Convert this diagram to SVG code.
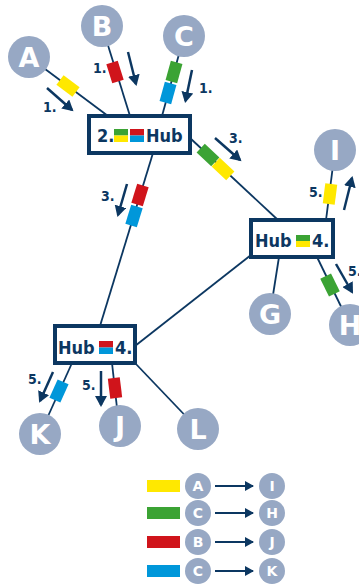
<svg xmlns="http://www.w3.org/2000/svg" width="359" height="587" viewBox="0 0 359 587">
<style>
.ln{stroke:#0c3761;stroke-width:1.8;fill:none}
.ar{stroke:#0c3761;stroke-width:2.5;fill:none;marker-end:url(#ah)}
.lar{stroke:#0c3761;stroke-width:2;fill:none;marker-end:url(#lah)}
.nd{fill:#97a8c4}
.nt{fill:#fff;font-family:"DejaVu Sans",sans-serif;font-weight:bold;font-size:27px;text-anchor:middle}
.lt{fill:#fff;font-family:"DejaVu Sans",sans-serif;font-weight:bold;font-size:14px;text-anchor:middle}
.hub{fill:#fff;stroke:#0c3761;stroke-width:4}
.ht{fill:#0c3761;font-family:"DejaVu Sans Condensed","DejaVu Sans",sans-serif;font-weight:bold;font-size:18px}
.st{fill:#0c3761;font-family:"DejaVu Sans Condensed","DejaVu Sans",sans-serif;font-weight:bold;font-size:14px}
.y{fill:#ffe800}.g{fill:#3ba334}.r{fill:#d0141b}.b{fill:#0097da}
</style>
<defs>
<marker id="ah" markerUnits="userSpaceOnUse" markerWidth="12" markerHeight="12" refX="9" refY="6" orient="auto"><path d="M0,0 L11,6 L0,12 z" fill="#0c3761"/></marker>
<marker id="lah" markerUnits="userSpaceOnUse" markerWidth="10" markerHeight="12" refX="8" refY="6" orient="auto"><path d="M0,1 L9,6 L0,11 z" fill="#0c3761"/></marker>
<rect id="pk" x="-10" y="-6" width="20" height="12"/>
</defs>
<g id="connectors">
<line class="ln" x1="29" y1="57" x2="108" y2="116"/>
<line class="ln" x1="102" y1="26" x2="130" y2="116"/>
<line class="ln" x1="184" y1="36" x2="162" y2="116"/>
<line class="ln" x1="190" y1="138" x2="278" y2="220"/>
<line class="ln" x1="153" y1="153" x2="100" y2="326"/>
<line class="ln" x1="251" y1="255" x2="135" y2="346"/>
<line class="ln" x1="326" y1="220" x2="335" y2="150"/>
<line class="ln" x1="279" y1="257" x2="270" y2="314"/>
<line class="ln" x1="317" y1="257" x2="350" y2="325"/>
<line class="ln" x1="72" y1="363" x2="40" y2="434"/>
<line class="ln" x1="112" y1="363" x2="119" y2="426"/>
<line class="ln" x1="135" y1="363" x2="198" y2="429"/>
</g>
<g id="packets">
<use href="#pk" class="y" transform="translate(68,86) rotate(36.8)"/>
<use href="#pk" class="r" transform="translate(115,72) rotate(72.7)"/>
<use href="#pk" class="g" transform="translate(174,72) rotate(105.4)"/>
<use href="#pk" class="b" transform="translate(168,93) rotate(105.4)"/>
<use href="#pk" class="g" transform="translate(208,155) rotate(43)"/>
<use href="#pk" class="y" transform="translate(223,169) rotate(43)"/>
<use href="#pk" class="r" transform="translate(140,195) rotate(107)"/>
<use href="#pk" class="b" transform="translate(134,216) rotate(107)"/>
<use href="#pk" class="y" transform="translate(330,194) rotate(-82.7)"/>
<use href="#pk" class="g" transform="translate(330,285) rotate(64.1)"/>
<use href="#pk" class="b" transform="translate(59,391) rotate(114.3)"/>
<use href="#pk" class="r" transform="translate(115,388) rotate(83)"/>
</g>
<g id="arrows">
<line class="ar" x1="47" y1="88" x2="72" y2="110"/>
<line class="ar" x1="128" y1="52" x2="136" y2="84"/>
<line class="ar" x1="192" y1="70" x2="185.5" y2="101"/>
<line class="ar" x1="215" y1="138" x2="240" y2="160"/>
<line class="ar" x1="127" y1="184" x2="118" y2="215"/>
<line class="ar" x1="344" y1="210" x2="352" y2="178"/>
<line class="ar" x1="336" y1="264" x2="352" y2="292"/>
<line class="ar" x1="53" y1="372" x2="40" y2="401"/>
<line class="ar" x1="101" y1="371" x2="101" y2="405"/>
<text class="st" x="43" y="112">1.</text>
<text class="st" x="93" y="73">1.</text>
<text class="st" x="199" y="93">1.</text>
<text class="st" x="229" y="143">3.</text>
<text class="st" x="101" y="201">3.</text>
<text class="st" x="309" y="197">5.</text>
<text class="st" x="348" y="276">5.</text>
<text class="st" x="28" y="384">5.</text>
<text class="st" x="82" y="390">5.</text>
</g>
<g id="A"><circle class="nd" cx="29" cy="57" r="21"/><text class="nt" x="29" y="67">A</text></g>
<g id="B"><circle class="nd" cx="102" cy="26" r="21"/><text class="nt" x="102" y="36">B</text></g>
<g id="C"><circle class="nd" cx="184" cy="36" r="21"/><text class="nt" x="184" y="46">C</text></g>
<g id="I"><circle class="nd" cx="335" cy="150" r="21"/><text class="nt" x="335" y="160">I</text></g>
<g id="G"><circle class="nd" cx="270" cy="314" r="21"/><text class="nt" x="270" y="324">G</text></g>
<g id="H"><circle class="nd" cx="350" cy="325" r="21"/><text class="nt" x="350" y="335">H</text></g>
<g id="K"><circle class="nd" cx="40" cy="434" r="21"/><text class="nt" x="40" y="444">K</text></g>
<g id="J"><circle class="nd" cx="120" cy="426" r="21"/><text class="nt" x="120" y="436">J</text></g>
<g id="L"><circle class="nd" cx="198" cy="429" r="21"/><text class="nt" x="198" y="439">L</text></g>
<g id="hub1">
<rect class="hub" x="89" y="116" width="101" height="37"/>
<text class="ht" x="97" y="142">2.</text>
<rect class="g" x="114" y="129" width="14" height="6.5"/><rect class="y" x="114" y="135.5" width="14" height="6.5"/>
<rect class="r" x="130" y="129" width="14" height="6.5"/><rect class="b" x="130" y="135.5" width="14" height="6.5"/>
<text class="ht" x="146" y="142">Hub</text>
</g>
<g id="hub2">
<rect class="hub" x="251" y="220" width="82" height="37"/>
<text class="ht" x="255" y="247">Hub</text>
<rect class="g" x="296" y="235" width="14" height="6"/><rect class="y" x="296" y="241" width="14" height="6"/>
<text class="ht" x="312" y="247">4.</text>
</g>
<g id="hub3">
<rect class="hub" x="55" y="326" width="80" height="37"/>
<text class="ht" x="58" y="354">Hub</text>
<rect class="r" x="99" y="341" width="14" height="6.5"/><rect class="b" x="99" y="347.5" width="14" height="6.5"/>
<text class="ht" x="115" y="354">4.</text>
</g>
<g id="legend">
<rect class="y" x="147" y="480" width="33" height="12"/>
<rect class="g" x="147" y="507" width="33" height="12"/>
<rect class="r" x="147" y="536" width="33" height="12"/>
<rect class="b" x="147" y="565" width="33" height="12"/>
<circle class="nd" cx="198" cy="486" r="13"/><text class="lt" x="198" y="491">A</text>
<circle class="nd" cx="198" cy="513" r="13"/><text class="lt" x="198" y="518">C</text>
<circle class="nd" cx="198" cy="542" r="13"/><text class="lt" x="198" y="547">B</text>
<circle class="nd" cx="198" cy="571" r="13"/><text class="lt" x="198" y="576">C</text>
<circle class="nd" cx="272" cy="486" r="13"/><text class="lt" x="272" y="491">I</text>
<circle class="nd" cx="272" cy="513" r="13"/><text class="lt" x="272" y="518">H</text>
<circle class="nd" cx="272" cy="542" r="13"/><text class="lt" x="272" y="547">J</text>
<circle class="nd" cx="272" cy="571" r="13"/><text class="lt" x="272" y="576">K</text>
<line class="lar" x1="215" y1="486" x2="253" y2="486"/>
<line class="lar" x1="215" y1="513" x2="253" y2="513"/>
<line class="lar" x1="215" y1="542" x2="253" y2="542"/>
<line class="lar" x1="215" y1="571" x2="253" y2="571"/>
</g>
</svg>
